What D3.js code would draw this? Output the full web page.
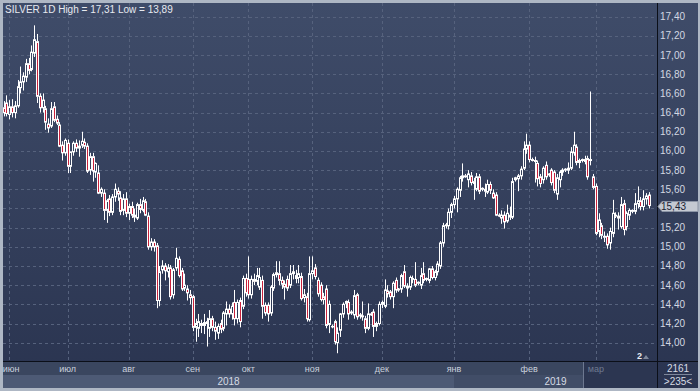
<!DOCTYPE html>
<html>
<head>
<meta charset="utf-8">
<script src="https://cdn.jsdelivr.net/npm/d3@7"></script>
<style>
  body { margin: 0; background: #aeb7c4; }
  text { font-family: "Liberation Sans", Arial, sans-serif; }
</style>
</head>
<body>
<div id="chart"></div>
<script>
// SILVER 1D, 30 May 2018 - 24 Mar 2019 (Sunday bars appear from 11 Nov)
var open = [
  16.45,16.50,16.38,16.46,16.40,16.47,16.66,16.72,16.77,16.91,16.85,17.02,17.14,16.57,16.45,16.44,16.28,16.26,16.46,16.33,16.27,16.06,15.98,
  16.08,15.84,15.99,16.08,16.03,16.06,16.09,16.05,15.80,15.94,15.78,15.77,15.56,15.56,15.38,15.50,15.36,15.52,15.58,15.51,15.38,15.50,
  15.35,15.42,15.33,15.30,15.44,15.38,15.47,15.32,15.00,15.05,15.01,14.44,14.76,14.80,14.74,14.78,14.50,14.78,14.87,14.75,14.57,14.56,14.50,
  14.48,14.16,14.15,14.20,14.18,14.22,14.15,14.25,14.16,14.10,14.20,14.15,14.30,14.35,14.30,14.42,14.25,14.44,14.38,14.67,
  14.66,14.50,14.66,14.64,14.58,14.65,14.39,14.39,14.31,14.57,14.71,14.72,14.65,14.61,14.66,14.60,14.72,14.70,14.68,14.69,14.47,14.48,14.24,
  14.72,14.78,14.65,14.60,14.48,14.56,14.19,14.17,14.22,14.00,14.13,14.30,14.41,14.42,14.32,14.29,14.50,14.28,14.27,14.25,14.15,14.30,14.32,14.17,14.20,
  14.40,14.38,14.54,14.53,14.48,14.65,14.55,14.56,14.74,14.59,14.58,14.66,14.66,14.62,14.60,14.72,14.66,14.65,14.77,14.68,14.74,14.80,15.04,15.22,15.22,15.36,
  15.44,15.50,15.59,15.72,15.74,15.70,15.74,15.68,15.60,15.73,15.60,15.60,15.57,15.65,15.56,15.54,15.33,15.30,15.33,15.27,15.33,15.31,15.70,15.71,15.74,15.82,16.02,
  16.06,15.91,15.90,15.87,15.73,15.70,15.85,15.75,15.80,15.78,15.55,15.70,15.78,15.80,15.80,15.82,15.98,16.04,15.88,15.90,15.91,15.92,15.90,15.73,
  15.63,15.16,15.22,15.11,15.11,15.04,15.14,15.33,15.32,15.21,15.45,15.21,15.33,15.37,15.37,15.45,15.48,15.42,15.50,15.54
];
var high = [
  16.52,16.58,16.53,16.54,16.52,16.74,16.88,16.82,16.96,16.97,17.10,17.31,17.22,16.60,16.60,16.47,16.34,16.51,16.51,16.37,16.30,16.10,16.13,
  16.12,15.99,16.10,16.12,16.11,16.20,16.13,16.08,15.98,15.98,15.88,15.85,15.62,15.60,15.50,15.54,15.55,15.66,15.62,15.58,15.55,15.57,
  15.45,15.47,15.40,15.46,15.50,15.52,15.50,15.36,15.09,15.08,15.04,14.80,14.86,14.83,14.82,14.81,14.78,14.99,14.90,14.78,14.72,14.60,14.55,
  14.50,14.25,14.30,14.24,14.30,14.26,14.34,14.28,14.22,14.20,14.24,14.33,14.43,14.40,14.42,14.55,14.45,14.47,14.70,14.72,
  14.90,14.70,14.72,14.78,14.78,14.70,14.42,14.42,14.60,14.73,14.85,14.85,14.69,14.65,14.70,14.81,14.81,14.76,14.81,14.73,14.56,14.52,14.90,
  14.90,14.82,14.68,14.63,14.52,14.60,14.44,14.19,14.24,14.16,14.31,14.42,14.44,14.45,14.34,14.55,14.52,14.31,14.43,14.28,14.41,14.32,14.35,14.22,14.43,
  14.44,14.66,14.60,14.55,14.64,14.68,14.57,14.72,14.81,14.62,14.70,14.70,14.84,14.64,14.78,14.84,14.68,14.78,14.80,14.76,14.85,15.06,15.25,15.25,15.40,15.46,
  15.53,15.62,15.74,15.87,15.76,15.80,15.78,15.72,15.77,15.76,15.62,15.66,15.70,15.68,15.60,15.57,15.35,15.38,15.37,15.44,15.42,15.72,15.73,15.76,15.84,16.10,16.18,
  16.10,15.93,15.94,15.90,15.76,15.84,15.89,15.77,15.82,15.80,15.76,15.80,15.82,15.82,15.88,16.04,16.20,16.07,15.92,15.92,15.95,15.95,16.62,15.76,
  15.66,15.35,15.25,15.16,15.14,15.20,15.49,15.36,15.36,15.52,15.49,15.37,15.40,15.39,15.56,15.63,15.52,15.59,15.56,15.57
];
var low = [
  16.36,16.36,16.33,16.35,16.34,16.45,16.60,16.63,16.72,16.80,16.83,16.98,16.50,16.40,16.40,16.22,16.19,16.24,16.30,16.27,16.04,15.90,15.95,
  15.77,15.77,15.95,15.99,15.94,16.03,16.02,15.77,15.75,15.68,15.72,15.55,15.52,15.28,15.25,15.32,15.33,15.47,15.48,15.33,15.33,15.31,
  15.28,15.30,15.26,15.28,15.35,15.36,15.32,14.97,14.96,14.95,14.36,14.38,14.72,14.65,14.68,14.45,14.46,14.75,14.68,14.54,14.54,14.44,14.40,
  14.12,14.01,14.06,14.10,14.09,13.96,14.06,14.12,14.03,14.04,14.10,14.12,14.18,14.26,14.24,14.18,14.20,14.16,14.35,14.48,
  14.46,14.46,14.60,14.60,14.55,14.25,14.28,14.22,14.28,14.54,14.68,14.60,14.56,14.45,14.54,14.57,14.66,14.62,14.62,14.44,14.42,14.22,14.22,
  14.66,14.66,14.48,14.43,14.40,14.15,14.10,14.15,13.98,13.89,14.06,14.26,14.36,14.24,14.29,14.25,14.24,14.25,14.23,14.10,14.13,14.28,14.06,14.12,14.18,
  14.36,14.36,14.47,14.45,14.36,14.52,14.53,14.52,14.57,14.48,14.55,14.62,14.58,14.60,14.56,14.62,14.64,14.62,14.66,14.65,14.70,14.77,15.00,15.19,15.18,15.30,
  15.40,15.36,15.52,15.68,15.72,15.62,15.64,15.49,15.58,15.55,15.58,15.52,15.55,15.55,15.50,15.32,15.31,15.24,15.19,15.25,15.28,15.29,15.68,15.58,15.70,15.80,15.97,
  15.88,15.89,15.67,15.63,15.62,15.66,15.70,15.73,15.64,15.56,15.49,15.62,15.74,15.78,15.76,15.80,15.95,15.85,15.82,15.88,15.86,15.70,15.85,15.60,
  15.12,15.10,15.08,15.05,14.98,14.97,15.10,15.30,15.18,15.19,15.12,15.17,15.28,15.35,15.34,15.40,15.38,15.38,15.44,15.40
];
var close = [
  16.40,16.39,16.46,16.40,16.47,16.67,16.72,16.78,16.91,16.84,17.03,17.16,16.57,16.45,16.53,16.30,16.24,16.44,16.32,16.29,16.05,15.98,16.11,
  15.84,15.99,16.08,16.03,16.05,16.10,16.05,15.79,15.94,15.79,15.87,15.56,15.60,15.38,15.48,15.36,15.52,15.60,15.55,15.37,15.50,15.35,
  15.42,15.33,15.31,15.44,15.39,15.48,15.33,15.00,15.05,15.00,14.44,14.74,14.80,14.75,14.78,14.48,14.76,14.88,14.70,14.56,14.60,14.52,14.47,
  14.16,14.20,14.22,14.18,14.21,14.20,14.25,14.16,14.12,14.17,14.14,14.31,14.35,14.30,14.38,14.25,14.42,14.22,14.67,14.52,
  14.50,14.66,14.64,14.70,14.68,14.38,14.31,14.30,14.58,14.71,14.73,14.65,14.61,14.58,14.57,14.72,14.74,14.67,14.72,14.46,14.50,14.25,14.72,
  14.75,14.69,14.51,14.45,14.45,14.18,14.40,14.17,14.01,14.10,14.30,14.40,14.43,14.30,14.31,14.49,14.27,14.29,14.28,14.15,14.30,14.29,14.17,14.20,14.40,
  14.42,14.55,14.51,14.48,14.62,14.55,14.56,14.70,14.59,14.57,14.68,14.67,14.60,14.63,14.70,14.65,14.67,14.77,14.68,14.74,14.82,15.04,15.22,15.23,15.36,15.44,
  15.50,15.60,15.72,15.74,15.73,15.76,15.67,15.66,15.73,15.58,15.61,15.58,15.65,15.59,15.51,15.33,15.32,15.33,15.26,15.35,15.31,15.68,15.72,15.74,15.81,16.02,16.06,
  15.91,15.90,15.89,15.71,15.66,15.82,15.73,15.76,15.67,15.59,15.72,15.78,15.80,15.81,15.82,15.99,16.06,15.88,15.90,15.91,15.89,15.73,15.91,15.62,
  15.14,15.28,15.12,15.10,15.02,15.16,15.35,15.32,15.30,15.44,15.18,15.35,15.38,15.38,15.45,15.48,15.42,15.50,15.53,15.43
];
var monthNames = ["янв", "фев", "мар", "апр", "май", "июн", "июл", "авг", "сен", "окт", "ноя", "дек"];
var yTicks = [14.0, 14.2, 14.4, 14.6, 14.8, 15.0, 15.2, 15.4, 15.6, 15.8, 16.0, 16.2, 16.4, 16.6, 16.8, 17.0, 17.2, 17.4];
var barCount = "2161", barsShown = ">235<", eventMark = "2";

// trading calendar: weekdays, plus the short Sunday bars the feed adds after 11 Nov
var dates = d3.timeDay
  .range(new Date(2018, 4, 30), new Date(2019, 2, 25))
  .filter(function (d) {
    var wd = d.getDay();
    if (wd === 6) return false;
    if (wd === 0) return d >= new Date(2018, 10, 11);
    return true;
  });

var data = dates.map(function (d, i) {
  return { date: d, o: open[i], h: high[i], l: low[i], c: close[i] };
});

var width = 700, height = 391;
var plot = { left: 3, right: 657, top: 3, bottom: 361 };
var fmt = function (v) { return d3.format(".2f")(v).replace(".", ","); };

var svg = d3.select("#chart").append("svg")
  .attr("width", width).attr("height", height)
  .style("display", "block");

var defs = svg.append("defs");
var grad = defs.append("linearGradient")
  .attr("id", "bg").attr("x1", 0).attr("y1", 0).attr("x2", 0).attr("y2", 1);
grad.append("stop").attr("offset", "0%").attr("stop-color", "#3f4c69");
grad.append("stop").attr("offset", "100%").attr("stop-color", "#2a3450");
defs.append("clipPath").attr("id", "plotclip")
  .append("rect")
  .attr("x", plot.left).attr("y", plot.top)
  .attr("width", plot.right - plot.left).attr("height", plot.bottom - plot.top);

// frame + background
svg.append("rect").attr("width", width).attr("height", height).attr("fill", "#aeb7c4");
svg.append("rect")
  .attr("x", 3).attr("y", 3).attr("width", 695).attr("height", 385)
  .attr("fill", "url(#bg)");

// scales
var step = 2.78;
var x = d3.scaleBand()
  .domain(dates)
  .range([2.3, 2.3 + dates.length * step])
  .padding(0);
var cx = function (d) { return x(d) + x.bandwidth() / 2; };
var y = d3.scaleLinear().domain([14.0, 17.4]).range([342.7, 16.7]);

// first bar of each month
var monthStarts = dates.filter(function (d, i) {
  return i > 0 && d.getMonth() !== dates[i - 1].getMonth();
});

// grid
var grid = svg.append("g").attr("stroke", "#56627d").attr("stroke-dasharray", "3,3");
grid.selectAll("line.h").data(yTicks).enter().append("line")
  .attr("x1", plot.left).attr("x2", plot.right)
  .attr("y1", function (d) { return Math.round(y(d)) + 0.5; })
  .attr("y2", function (d) { return Math.round(y(d)) + 0.5; });
grid.selectAll("line.v").data(monthStarts).enter().append("line")
  .attr("x1", function (d) { return Math.round(cx(d)) + 0.5; })
  .attr("x2", function (d) { return Math.round(cx(d)) + 0.5; })
  .attr("y1", plot.top).attr("y2", plot.bottom);

// candles
var candles = svg.append("g").attr("clip-path", "url(#plotclip)")
  .selectAll("g").data(data).enter().append("g")
  .attr("transform", function (d) { return "translate(" + Math.round(cx(d.date)) + ",0)"; });

candles.append("line")
  .attr("x1", 0.5).attr("x2", 0.5)
  .attr("y1", function (d) { return y(d.h); })
  .attr("y2", function (d) { return y(Math.max(d.o, d.c)); })
  .attr("stroke", "#ffffff");
candles.append("line")
  .attr("x1", 0.5).attr("x2", 0.5)
  .attr("y1", function (d) { return y(Math.min(d.o, d.c)); })
  .attr("y2", function (d) { return y(d.l); })
  .attr("stroke", "#ffffff");
candles.append("rect")
  .attr("x", -0.5)
  .attr("y", function (d) { return y(Math.max(d.o, d.c)); })
  .attr("width", 2)
  .attr("height", function (d) { return Math.max(0.5, Math.abs(y(d.o) - y(d.c))); })
  .attr("fill", function (d) { return d.c < d.o ? "#c9223c" : "none"; })
  .attr("stroke", "#ffffff")
  .attr("stroke-width", 1);

// separators
svg.append("line").attr("x1", plot.right + 0.5).attr("x2", plot.right + 0.5)
  .attr("y1", 3).attr("y2", 388).attr("stroke", "#0b0f18");

// bottom time axis
var monthRow = { y: 362, h: 13 }, yearRow = { y: 375, h: 13 };
svg.append("rect").attr("x", 3).attr("y", monthRow.y).attr("width", plot.right - 3).attr("height", monthRow.h)
  .attr("fill", "#3a465f");
var years = [2018, 2019];
var yearStart = function (yr) {
  var first = dates.find(function (d) { return d.getFullYear() === yr; });
  return yr === 2018 ? 3 : Math.round(cx(first));
};
var yearEnd = function (yr) { return yr === 2018 ? yearStart(2019) : plot.right; };
svg.selectAll("rect.year").data(years).enter().append("rect")
  .attr("x", yearStart)
  .attr("y", yearRow.y)
  .attr("width", function (d) { return yearEnd(d) - yearStart(d); })
  .attr("height", yearRow.h)
  .attr("fill", function (d) { return d === 2018 ? "#4d5a75" : "#414d67"; });

// current month panel
var lastMonth = monthStarts[monthStarts.length - 1];
var panelX = Math.round(cx(lastMonth)) - 13;
svg.append("rect").attr("x", panelX).attr("y", monthRow.y)
  .attr("width", plot.right - panelX).attr("height", monthRow.h + yearRow.h)
  .attr("fill", "#2c3651");
svg.append("line").attr("x1", panelX + 0.5).attr("x2", panelX + 0.5)
  .attr("y1", monthRow.y).attr("y2", yearRow.y + yearRow.h).attr("stroke", "#6d7890");

svg.append("line").attr("x1", 3).attr("x2", 698)
  .attr("y1", plot.bottom + 0.5).attr("y2", plot.bottom + 0.5).attr("stroke", "#0b0f18");

svg.selectAll("text.month").data(monthStarts).enter().append("text")
  .attr("x", function (d) { return Math.max(11, cx(d)); })
  .attr("y", 372)
  .attr("text-anchor", "middle")
  .attr("font-size", "9px")
  .attr("fill", function (d) { return d === lastMonth ? "#6f7a90" : "#c9d0dc"; })
  .text(function (d) { return monthNames[d.getMonth()]; });

svg.selectAll("text.year").data(years).enter().append("text")
  .attr("x", function (d) { return (yearStart(d) + yearEnd(d)) / 2; })
  .attr("y", 385)
  .attr("text-anchor", "middle")
  .attr("font-size", "10px")
  .attr("fill", "#d6dbe4")
  .text(function (d) { return d; });

// last price marker position (tick labels under it are hidden)
var last = data[data.length - 1];
var ly = Math.round(y(last.c)) + 0.5;

// right price axis
svg.selectAll("text.tick")
  .data(yTicks.filter(function (d) { return Math.abs(y(d) - ly) > 9; }))
  .enter().append("text")
  .attr("x", 660)
  .attr("y", function (d) { return y(d); })
  .attr("dy", "0.35em")
  .attr("font-size", "10px")
  .attr("fill", "#d3d8e2")
  .text(fmt);

svg.append("path")
  .attr("d", "M" + (plot.right + 1) + "," + ly + "L" + (plot.right + 5) + "," + (ly - 5) +
    "H698V" + (ly + 5) + "H" + (plot.right + 5) + "Z")
  .attr("fill", "#c4c9d2").attr("stroke", "#8c95a6");
svg.append("text").attr("x", 661).attr("y", ly).attr("dy", "0.36em")
  .attr("font-size", "10px").attr("fill", "#1b2233").text(fmt(last.c));

// bottom-right counter box
svg.append("text").attr("x", 678).attr("y", 372).attr("text-anchor", "middle")
  .attr("font-size", "10px").attr("fill", "#d6dbe4").text(barCount);
svg.append("line").attr("x1", 664).attr("x2", 692).attr("y1", 374.5).attr("y2", 374.5)
  .attr("stroke", "#7d879b");
svg.append("text").attr("x", 678).attr("y", 385).attr("text-anchor", "middle")
  .attr("font-size", "10px").attr("fill", "#d6dbe4").text(barsShown);

// event marker
svg.append("text").attr("x", 637).attr("y", 359)
  .attr("font-size", "9px").attr("font-weight", "bold").attr("fill", "#e8ebf0").text(eventMark);
svg.append("path").attr("d", "M643,359L646,355L649,359Z").attr("fill", "#7e889b");

// title
svg.append("text").attr("x", 5).attr("y", 13)
  .attr("font-size", "10px").attr("fill", "#e7eaf0")
  .text("SILVER 1D High = " + fmt(d3.max(high)) + " Low = " + fmt(d3.min(low)));
</script>
</body>
</html>
